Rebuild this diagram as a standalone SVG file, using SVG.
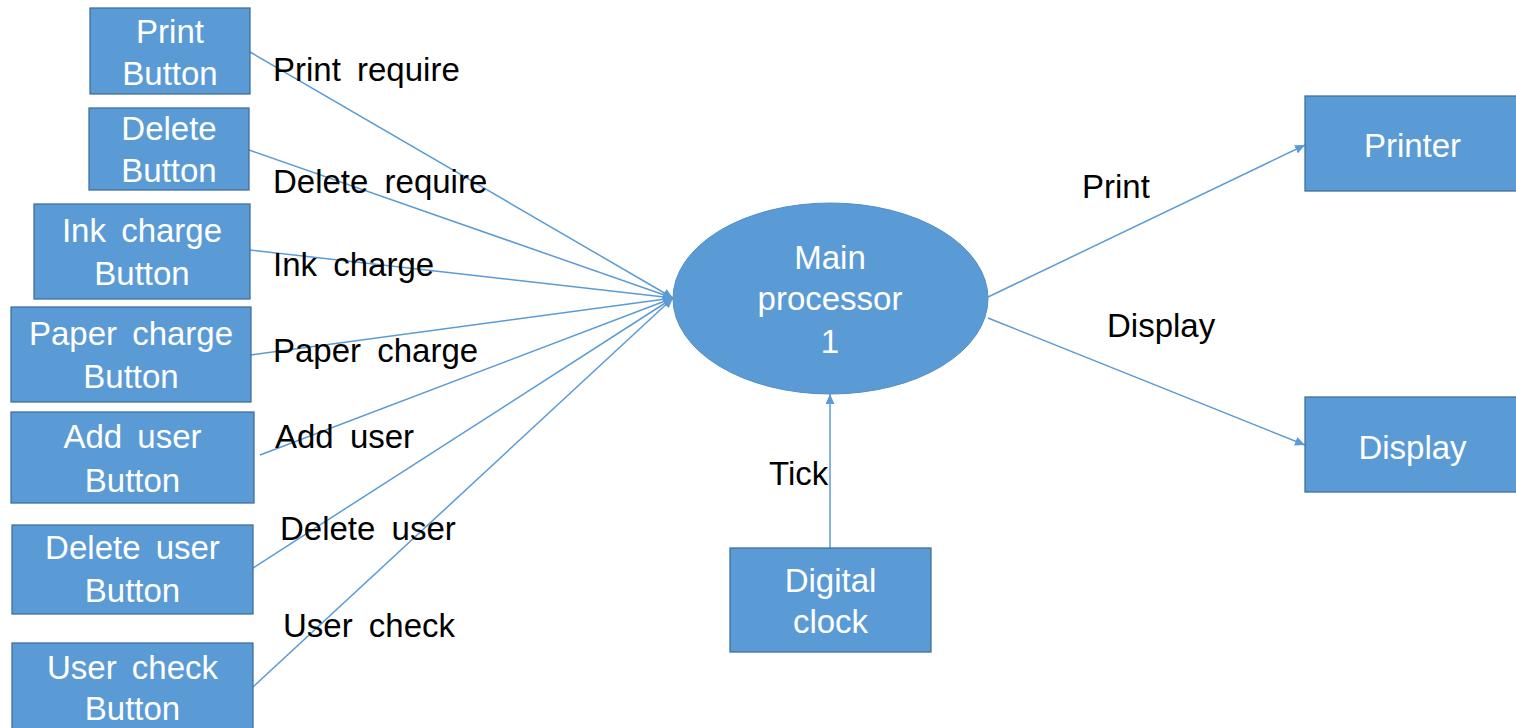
<svg xmlns="http://www.w3.org/2000/svg" width="1516" height="728" viewBox="0 0 1516 728">
<style>
.box{fill:#5B9BD5;stroke:#41719C;stroke-width:1.3}
.ell{fill:#5B9BD5;stroke:#5290C8;stroke-width:1}
.nt{font-family:"Liberation Sans",Arial,sans-serif;font-size:33px;fill:#FFFFFF;text-anchor:middle;word-spacing:6px}
.lb{font-family:"Liberation Sans",Arial,sans-serif;font-size:33px;fill:#000000;word-spacing:7px}
.cn{stroke:#5B9BD5;stroke-width:1.5;fill:none;marker-end:url(#ah)}
</style>
<defs>
<marker id="ah" markerUnits="userSpaceOnUse" markerWidth="11" markerHeight="9" refX="10" refY="4.5" orient="auto">
<path d="M0,0 L10,4.5 L0,9 z" fill="#5B9BD5"/>
</marker>
</defs>
<rect width="1516" height="728" fill="#FFFFFF"/>
<g id="connectors">
<line class="cn" x1="250" y1="52" x2="673" y2="298"/>
<line class="cn" x1="249" y1="150" x2="673" y2="298"/>
<line class="cn" x1="250" y1="250" x2="673" y2="298"/>
<line class="cn" x1="251" y1="355" x2="673" y2="298"/>
<line class="cn" x1="260" y1="455" x2="673" y2="298"/>
<line class="cn" x1="253" y1="568" x2="673" y2="298"/>
<line class="cn" x1="253" y1="687" x2="673" y2="298"/>
<line class="cn" x1="830" y1="548" x2="830" y2="394"/>
<line class="cn" x1="988" y1="297" x2="1305" y2="145"/>
<line class="cn" x1="988" y1="318" x2="1305" y2="445"/>
</g>
<g id="labels">
<text class="lb" x="273" y="81">Print require</text>
<text class="lb" x="273" y="193">Delete require</text>
<text class="lb" x="273" y="276">Ink charge</text>
<text class="lb" x="273" y="362">Paper charge</text>
<text class="lb" x="275" y="448">Add user</text>
<text class="lb" x="280" y="540">Delete user</text>
<text class="lb" x="283" y="637">User check</text>
<text class="lb" x="769" y="485">Tick</text>
<text class="lb" x="1082" y="198">Print</text>
<text class="lb" x="1107" y="337">Display</text>
</g>
<g id="print-button">
<rect class="box" x="90" y="8" width="160" height="86"/>
<text class="nt" x="170" y="43">Print</text>
<text class="nt" x="170" y="85">Button</text>
</g>
<g id="delete-button">
<rect class="box" x="89" y="108" width="160" height="82"/>
<text class="nt" x="169" y="140">Delete</text>
<text class="nt" x="169" y="182">Button</text>
</g>
<g id="ink-charge-button">
<rect class="box" x="34" y="204" width="216" height="95"/>
<text class="nt" x="142" y="242">Ink charge</text>
<text class="nt" x="142" y="285">Button</text>
</g>
<g id="paper-charge-button">
<rect class="box" x="11" y="307" width="240" height="95"/>
<text class="nt" x="131" y="345">Paper charge</text>
<text class="nt" x="131" y="388">Button</text>
</g>
<g id="add-user-button">
<rect class="box" x="11" y="412" width="243" height="91"/>
<text class="nt" x="132.5" y="448">Add user</text>
<text class="nt" x="132.5" y="492">Button</text>
</g>
<g id="delete-user-button">
<rect class="box" x="12" y="525" width="241" height="89"/>
<text class="nt" x="132.5" y="559">Delete user</text>
<text class="nt" x="132.5" y="602">Button</text>
</g>
<g id="user-check-button">
<rect class="box" x="12" y="643" width="241" height="100"/>
<text class="nt" x="132.5" y="679">User check</text>
<text class="nt" x="132.5" y="720">Button</text>
</g>
<g id="main-processor">
<ellipse class="ell" cx="830.5" cy="298.5" rx="157.5" ry="95.5"/>
<text class="nt" x="830" y="269">Main</text>
<text class="nt" x="830" y="310">processor</text>
<text class="nt" x="830" y="353">1</text>
</g>
<g id="digital-clock">
<rect class="box" x="730" y="548" width="201" height="104"/>
<text class="nt" x="830.5" y="592">Digital</text>
<text class="nt" x="830.5" y="633">clock</text>
</g>
<g id="printer">
<rect class="box" x="1305" y="96" width="216" height="95"/>
<text class="nt" x="1412.5" y="157">Printer</text>
</g>
<g id="display">
<rect class="box" x="1305" y="397" width="216" height="95"/>
<text class="nt" x="1412.5" y="459">Display</text>
</g>
</svg>
